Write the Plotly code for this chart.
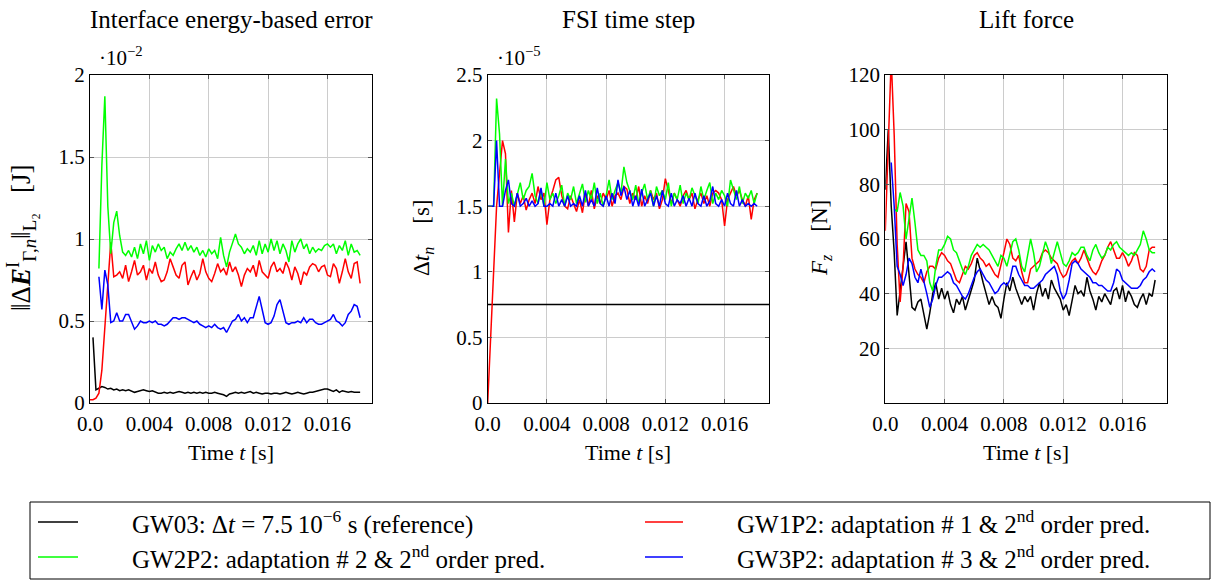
import plotly.graph_objects as go

# ---------------- data ----------------
time_ms = [0.0, 0.2, 0.4, 0.6, 0.8, 1.0, 1.2, 1.4, 1.6, 1.8,
           2.0, 2.2, 2.4, 2.6, 2.8, 3.0, 3.2, 3.4, 3.6, 3.8,
           4.0, 4.2, 4.4, 4.6, 4.8, 5.0, 5.2, 5.4, 5.6, 5.8,
           6.0, 6.2, 6.4, 6.6, 6.8, 7.0, 7.2, 7.4, 7.6, 7.8,
           8.0, 8.2, 8.4, 8.6, 8.8, 9.0, 9.2, 9.4, 9.6, 9.8,
           10.0, 10.2, 10.4, 10.6, 10.8, 11.0, 11.2, 11.4, 11.6, 11.8,
           12.0, 12.2, 12.4, 12.6, 12.8, 13.0, 13.2, 13.4, 13.6, 13.8,
           14.0, 14.2, 14.4, 14.6, 14.8, 15.0, 15.2, 15.4, 15.6, 15.8,
           16.0, 16.2, 16.4, 16.6, 16.8, 17.0, 17.2, 17.4, 17.6, 17.8,
           18.0, 18.2]

# Panel 1: interface energy-based error, in units of 1e-2 J
err_gw03 = [None, 0.40, 0.08, 0.09, 0.10, 0.095, 0.085, 0.09, 0.08, 0.085,
            0.075, 0.08, 0.075, 0.08, 0.07, 0.065, 0.07, 0.075, 0.08, 0.075,
            0.07, 0.075, 0.065, 0.06, 0.06, 0.065, 0.06, 0.065, 0.06, 0.065,
            0.07, 0.065, 0.06, 0.065, 0.06, 0.065, 0.06, 0.065, 0.06, 0.065,
            0.06, 0.06, 0.065, 0.06, 0.055, 0.05, 0.04, 0.055, 0.06, 0.065,
            0.06, 0.065, 0.06, 0.065, 0.07, 0.06, 0.065, 0.06, 0.055, 0.06,
            0.06, 0.055, 0.06, 0.06, 0.055, 0.06, 0.065, 0.06, 0.055, 0.06,
            0.065, 0.06, 0.055, 0.06, 0.065, 0.065, 0.07, 0.075, 0.08, 0.085,
            0.085, 0.075, 0.07, 0.08, 0.065, 0.075, 0.07, 0.065, 0.07, 0.065,
            0.065, 0.065]
err_gw1p2 = [0.02, 0.02, 0.03, 0.06, 0.20, 0.45, 0.75, 0.98, 0.77, 0.78,
             0.80, 0.76, 0.84, 0.74, 0.80, 0.87, 0.78, 0.80, 0.84, 0.75,
             0.82, 0.79, 0.86, 0.78, 0.74, 0.75, 0.80, 0.88, 0.83, 0.78,
             0.76, 0.84, 0.86, 0.72, 0.77, 0.81, 0.75, 0.79, 0.88, 0.80,
             0.76, 0.74, 0.79, 0.85, 0.80, 0.82, 0.78, 0.86, 0.80, 0.83,
             0.78, 0.71, 0.78, 0.82, 0.80, 0.84, 0.77, 0.87, 0.80, 0.78,
             0.76, 0.83, 0.86, 0.80, 0.82, 0.79, 0.86, 0.82, 0.75, 0.83,
             0.79, 0.72, 0.80, 0.78, 0.83, 0.85, 0.84, 0.80, 0.83, 0.84,
             0.78, 0.77, 0.85, 0.82, 0.73, 0.80, 0.88, 0.80, 0.76, 0.85,
             0.86, 0.73]
err_gw2p2 = [None, None, None, 0.82, 1.45, 1.87, 1.20, 0.91, 1.10, 1.17,
             1.02, 0.92, 0.90, 0.93, 0.89, 0.95, 0.88, 0.97, 0.91, 0.99,
             0.87, 0.96, 0.92, 0.97, 0.93, 0.95, 0.88, 0.92, 0.90, 0.94,
             0.97, 0.93, 0.98, 0.93, 0.96, 0.92, 0.95, 0.90, 0.93, 0.89,
             0.94, 0.91, 0.93, 0.88, 1.01, 0.90, 0.83, 0.92, 0.97, 1.03,
             0.97, 0.95, 0.91, 0.94, 0.92, 0.96, 0.90, 0.99, 0.91, 0.97,
             0.92, 1.00, 0.93, 0.99, 0.91, 0.97, 0.93, 0.86, 0.99, 0.92,
             0.97, 1.00, 0.94, 0.97, 0.91, 0.95, 0.92, 0.94, 0.93, 0.96,
             0.97, 0.95, 0.97, 0.91, 0.96, 0.93, 0.99, 0.90, 0.97, 0.92,
             0.93, 0.90]
err_gw3p2 = [None, None, None, 0.77, 0.57, 0.81, 0.72, 0.49, 0.50, 0.55,
             0.50, 0.50, 0.54, 0.54, 0.50, 0.45, 0.47, 0.50, 0.49, 0.49,
             0.50, 0.49, 0.50, 0.48, 0.48, 0.47, 0.48, 0.50, 0.52, 0.52,
             0.51, 0.52, 0.52, 0.51, 0.50, 0.49, 0.50, 0.48, 0.47, 0.46,
             0.47, 0.46, 0.48, 0.46, 0.45, 0.46, 0.43, 0.47, 0.50, 0.51,
             0.54, 0.50, 0.52, 0.49, 0.52, 0.52, 0.58, 0.65, 0.57, 0.49,
             0.48, 0.49, 0.53, 0.60, 0.63, 0.56, 0.49, 0.48, 0.49, 0.49,
             0.50, 0.49, 0.52, 0.49, 0.51, 0.51, 0.49, 0.48, 0.48, 0.49,
             0.50, 0.51, 0.54, 0.50, 0.49, 0.47, 0.49, 0.54, 0.56, 0.60,
             0.59, 0.52]

# Panel 2: FSI time step, in units of 1e-5 s
dt_gw03_time_ms = [0.0, 19.0]
dt_gw03 = [0.75, 0.75]
dt_gw1p2 = [0.0, None, None, 1.5, 1.75, 2.0, 1.9, 1.3, 1.62, 1.38,
            1.6, 1.52, 1.58, 1.47, 1.55, 1.6, 1.52, 1.65, 1.55, 1.6,
            1.36, 1.55, 1.62, 1.7, 1.72, 1.58, 1.5, 1.48, 1.58, 1.52,
            1.46, 1.55, 1.45, 1.6, 1.5, 1.62, 1.48, 1.58, 1.52, 1.6,
            1.55, 1.62, 1.5, 1.58, 1.6, 1.55, 1.65, 1.63, 1.52, 1.6,
            1.55, 1.65, 1.5, 1.58, 1.52, 1.62, 1.55, 1.6, 1.48, 1.55,
            1.71, 1.62, 1.52, 1.6, 1.55, 1.5, 1.58, 1.62, 1.55, 1.6,
            1.48, 1.55, 1.6, 1.52, 1.58, 1.5, 1.6, 1.62, 1.6, 1.55,
            1.35, 1.55, 1.6, 1.65, 1.58, 1.62, 1.55, 1.5, 1.58, 1.4,
            1.55, 1.6]
dt_gw2p2 = [1.5, 1.5, 1.5, 2.32, 2.05, 1.5, 1.86, 1.52, 1.6, 1.5,
            1.58, 1.68, 1.55, 1.62, 1.65, 1.75, 1.58, 1.52, 1.62, 1.5,
            1.68, 1.55, 1.6, 1.52, 1.58, 1.66, 1.5, 1.6, 1.55, 1.65,
            1.52, 1.6, 1.67, 1.53, 1.62, 1.55, 1.68, 1.52, 1.6, 1.5,
            1.58, 1.7, 1.55, 1.62, 1.68, 1.6, 1.8, 1.68, 1.62, 1.55,
            1.66, 1.52, 1.6, 1.67, 1.55, 1.62, 1.5, 1.65, 1.58, 1.62,
            1.55, 1.68, 1.5, 1.6, 1.55, 1.66, 1.52, 1.6, 1.55, 1.64,
            1.58, 1.52, 1.65, 1.55, 1.62, 1.68, 1.52, 1.6, 1.55, 1.62,
            1.58, 1.5, 1.7, 1.62, 1.55, 1.65, 1.52, 1.6, 1.56, 1.62,
            1.52, 1.6]
dt_gw3p2 = [1.5, 1.5, 1.5, 2.0, 1.5, 1.5, 1.62, 1.7, 1.52, 1.5,
            1.6, 1.5, 1.52, 1.56, 1.5, 1.54, 1.5, 1.52, 1.64, 1.5,
            1.5, 1.52, 1.5, 1.6, 1.5, 1.55, 1.5, 1.58, 1.5, 1.52,
            1.5, 1.58, 1.5, 1.62, 1.5, 1.55, 1.5, 1.64, 1.52, 1.5,
            1.58, 1.5, 1.6, 1.52, 1.7, 1.58, 1.65, 1.55, 1.62, 1.5,
            1.58, 1.5, 1.63, 1.5, 1.55, 1.6, 1.5, 1.58, 1.5, 1.62,
            1.52, 1.5, 1.6, 1.5, 1.55, 1.52, 1.58, 1.5, 1.56, 1.5,
            1.6, 1.52, 1.5, 1.58, 1.5, 1.54, 1.65, 1.52, 1.5, 1.55,
            1.5, 1.6, 1.52, 1.5, 1.62, 1.5, 1.55, 1.5, 1.52, 1.5,
            1.52, 1.5]

# Panel 3: lift force in N
lift_gw03 = [78, 100, 72, 55, 32, 40, 50, 59, 47, 35,
             34, 37, 38, 32, 27, 33, 40, 44, 38, 42,
             38, 41, 36, 33, 38, 36, 39, 34, 38, 42,
             45, 53, 48, 44, 40, 36, 39, 36, 35, 31,
             38, 44, 41, 46, 42, 39, 36, 39, 37, 39,
             34, 40, 44, 39, 42, 38, 45, 42, 40, 38,
             34, 36, 32, 38, 43, 40, 41, 39, 46, 41,
             38, 34, 39, 37, 40, 38, 36, 41, 42, 38,
             43, 37, 41, 39, 36, 35, 38, 40, 36, 40,
             39, 45]
lift_gw1p2 = [63, 94, 126, 98, 58, 37, 50, 73, 70, 53,
              49, 47, 46, 44, 48, 50, 50, 49, 53, 55,
              54, 52, 51, 48, 45, 44, 47, 50, 49, 51,
              54, 55, 53, 52, 50, 51, 49, 47, 46, 50,
              55, 60, 58, 53, 52, 54, 48, 44, 44, 49,
              50, 51, 52, 55, 56, 55, 53, 52, 51, 48,
              46, 47, 50, 52, 53, 51, 53, 56, 53, 50,
              48, 47, 49, 52, 54, 57, 59, 56, 53, 53,
              55, 53, 50, 52, 55, 54, 49, 48, 50, 56,
              57, 57]
lift_gw2p2 = [None, None, None, 71, 70, 77, 72, 60, 68, 75,
              66, 56, 54, 54, 52, 44, 41, 50, 56, 56,
              58, 61, 60, 56, 55, 52, 49, 47, 50, 54,
              56, 58, 57, 58, 57, 56, 54, 52, 50, 54,
              53, 50, 55, 59, 60, 56, 50, 48, 54, 60,
              55, 48, 50, 55, 59, 56, 51, 55, 59, 55,
              51, 50, 52, 55, 54, 55, 57, 57, 54, 52,
              56, 58, 55, 53, 54, 57, 56, 58, 59, 57,
              56, 55, 54, 55, 54, 56, 58, 63, 60, 56,
              55, 55]
lift_gw3p2 = [None, None, 88, 72, 50, 47, 43, 47, 53, 51,
              46, 44, 49, 45, 40, 35, 38, 43, 46, 46,
              47, 48, 47, 44, 43, 41, 39, 38, 40, 43,
              46, 48, 49, 47, 45, 44, 42, 40, 41, 43,
              44, 43, 45, 50, 50, 47, 45, 43, 43, 42,
              42, 43, 44, 45, 47, 48, 49, 50, 47, 41,
              38, 40, 45, 51, 52, 51, 49, 48, 47, 46,
              44, 44, 43, 43, 42, 41, 41, 44, 49, 48,
              45, 44, 43, 42, 42, 42, 43, 45, 46, 48,
              49, 48]

for arr in [err_gw03, err_gw1p2, err_gw2p2, err_gw3p2, dt_gw1p2, dt_gw2p2,
            dt_gw3p2, lift_gw03, lift_gw1p2, lift_gw2p2, lift_gw3p2]:
    assert len(arr) == len(time_ms), len(arr)

x_ticks = [0.0, 0.004, 0.008, 0.012, 0.016]
x_tick_labels = ["0.0", "0.004", "0.008", "0.012", "0.016"]
err_ticks = [0, 0.5, 1, 1.5, 2]
err_tick_labels = ["0", "0.5", "1", "1.5", "2"]
dt_ticks = [0, 0.5, 1, 1.5, 2, 2.5]
dt_tick_labels = ["0", "0.5", "1", "1.5", "2", "2.5"]
lift_ticks = [20, 40, 60, 80, 100, 120]

series_names = [
    "GW03: Δ<i>t</i> = 7.5\u200910<sup>−6</sup> s (reference)",
    "GW1P2: adaptation # 1 &amp; 2<sup>nd</sup> order pred.",
    "GW2P2: adaptation # 2 &amp; 2<sup>nd</sup> order pred.",
    "GW3P2: adaptation # 3 &amp; 2<sup>nd</sup> order pred.",
]
colors = ["#000000", "#ff0000", "#00ff00", "#0000ff"]

# ---------------- figure ----------------
W, H = 1212, 581
FONT = "Liberation Serif, Times New Roman, serif"


def px(x):
    return x / W


def py(y):
    return 1 - y / H


def label(x, y, text, size, angle=0, xanchor="center"):
    fig.add_annotation(x=px(x), y=py(y), xref="paper", yref="paper",
                       xanchor=xanchor, yanchor="middle", text=text,
                       showarrow=False, textangle=angle,
                       font=dict(family=FONT, size=size, color="black"))


t_s = [t / 1000 for t in time_ms]
fig = go.Figure()

panel_series = [
    [(t_s, err_gw03), (t_s, err_gw1p2), (t_s, err_gw2p2), (t_s, err_gw3p2)],
    [([t / 1000 for t in dt_gw03_time_ms], dt_gw03), (t_s, dt_gw1p2), (t_s, dt_gw2p2), (t_s, dt_gw3p2)],
    [(t_s, lift_gw03), (t_s, lift_gw1p2), (t_s, lift_gw2p2), (t_s, lift_gw3p2)],
]
for p, series in enumerate(panel_series):
    suffix = "" if p == 0 else str(p + 1)
    for k, (xs, ys) in enumerate(series):
        fig.add_trace(go.Scatter(
            x=xs, y=ys, mode="lines", name=series_names[k],
            line=dict(color=colors[k], width=1.5),
            connectgaps=(p == 1), showlegend=False,
            xaxis="x" + suffix, yaxis="y" + suffix,
        ))

panels = [(90, 372), (487.7, 769), (885.3, 1167)]
top, bottom = 75, 403

axis_common = dict(
    showgrid=True, gridcolor="#cccccc", gridwidth=1, automargin=False,
    showline=True, linecolor="black", linewidth=1, mirror="ticks",
    ticks="inside", ticklen=4, tickcolor="#555555", zeroline=False,
    tickfont=dict(family=FONT, size=21, color="black"),
)

y_setups = [
    dict(range=[0, 2], tickvals=err_ticks, ticktext=err_tick_labels),
    dict(range=[0, 2.5], tickvals=dt_ticks, ticktext=dt_tick_labels),
    dict(range=[0, 120], tickvals=lift_ticks, ticktext=[str(v) for v in lift_ticks]),
]

layout = dict(
    width=W, height=H, margin=dict(l=0, r=0, t=0, b=0, autoexpand=False),
    paper_bgcolor="white", plot_bgcolor="white", showlegend=False,
    font=dict(family=FONT, size=21, color="black"),
)
for p, (x0, x1) in enumerate(panels):
    suffix = "" if p == 0 else str(p + 1)
    layout["xaxis" + suffix] = dict(
        domain=[px(x0), px(x1)], range=[0, 0.019],
        tickvals=x_ticks, ticktext=x_tick_labels, ticklabelstandoff=2,
        anchor="y" + suffix, **axis_common)
    layout["yaxis" + suffix] = dict(
        domain=[py(bottom), py(top)], anchor="x" + suffix,
        **y_setups[p], **axis_common)
fig.update_layout(**layout)

titles = ["Interface energy-based error", "FSI time step", "Lift force"]
y_titles = [
    "‖Δ<b><i>E</i></b><sup>I</sup><sub>Γ,<i>n</i></sub>‖<sub>L₂</sub>   [J]",
    "Δ<i>t<sub>n</sub></i>    [s]",
    "<i>F<sub>z</sub></i>    [N]",
]
y_title_x = [21, 423, 821]
y_title_sizes = [27, 23, 23]
for p, (x0, x1) in enumerate(panels):
    cx = (x0 + x1) / 2
    label(cx, 19, titles[p], 25)
    label(cx, 452, "Time <i>t</i> [s]", 22)
    label(y_title_x[p], 238, y_titles[p], y_title_sizes[p], angle=-90)

for p, exp in [(0, "−2"), (1, "−5")]:
    label(panels[p][0] + 7, 57, "·10<sup>" + exp + "</sup>", 21, xanchor="left")

# legend box
fig.add_shape(type="rect", xref="paper", yref="paper",
              x0=px(30), x1=px(1210), y0=py(579), y1=py(502),
              line=dict(color="black", width=1), fillcolor="white")
legend_pos = [(38, 78, 130, 522), (645, 683, 735, 522),
              (38, 78, 130, 557), (645, 683, 735, 557)]
for k, (lx0, lx1, tx, ly) in enumerate(legend_pos):
    fig.add_shape(type="line", xref="paper", yref="paper",
                  x0=px(lx0), x1=px(lx1), y0=py(ly), y1=py(ly),
                  line=dict(color=colors[k], width=1.5))
    label(tx, ly, series_names[k], 25, xanchor="left")

fig.write_html("out.html")
